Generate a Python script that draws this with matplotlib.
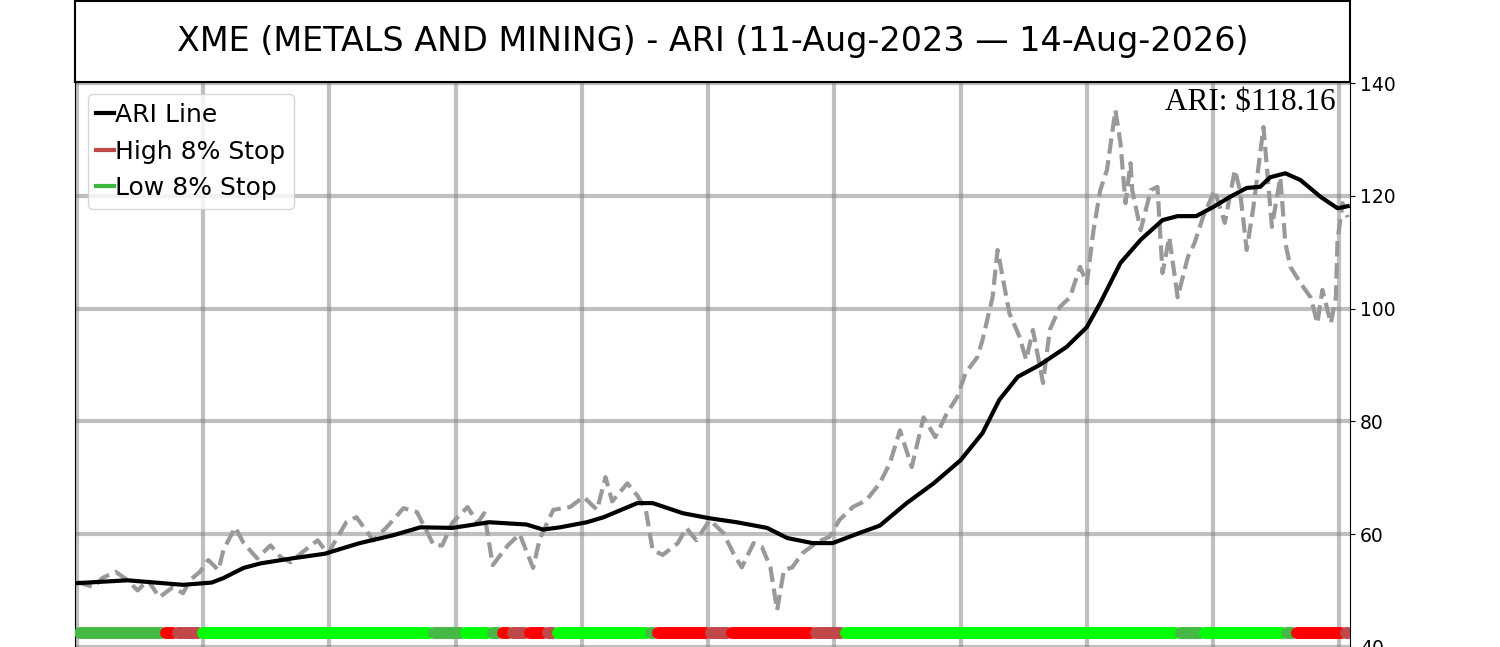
import matplotlib
matplotlib.use("Agg")
import matplotlib.pyplot as plt
import numpy as np

# ---- data (x = trading-day index from 11-Aug-2023) ----
price_day = [0, 10, 15, 23, 30, 36, 42, 49, 57, 63, 67, 73, 78, 84, 87, 94, 99, 107,
             115, 121, 127, 134, 143, 149, 160, 166, 176, 184, 194, 202, 212, 217,
             223, 232, 238, 242, 247, 256, 263, 271, 275, 283, 293, 301, 309, 314,
             318, 327, 333, 338, 342, 348, 357, 362, 368, 376, 384, 390, 395, 402,
             407, 412, 416, 420, 425, 431, 440, 447, 453, 461, 469, 477, 483, 489,
             496, 503, 510, 517, 523, 528, 535, 538, 544, 547, 550, 554, 560, 564,
             568, 574, 578, 584, 590, 596, 600, 604, 608, 612, 617, 620, 623, 626,
             627, 632, 638, 642, 645, 649, 654, 660, 664, 669, 676, 682, 688, 691,
             695, 699, 705, 707, 710, 715, 718, 721, 727, 733, 737, 740, 745, 748,
             749, 752, 755]
price = [51.5, 50.6, 52.2, 53.3, 51.8, 50.0, 51.8, 48.8, 50.6, 49.5, 51.8, 53.3, 55.4,
         53.6, 57.2, 61.2, 58.4, 55.7, 58.0, 55.9, 55.0, 56.8, 58.9, 56.5, 62.1, 63.0,
         58.9, 61.2, 64.6, 63.9, 58.0, 58.0, 62.0, 64.8, 62.0, 63.7, 54.5, 58.0, 60.0,
         54.0, 59.2, 64.3, 64.8, 66.6, 64.3, 70.1, 65.8, 69.0, 66.8, 64.3, 57.2, 56.3,
         58.4, 61.1, 58.9, 62.5, 60.2, 56.6, 54.1, 58.4, 57.7, 54.1, 46.5, 53.6, 54.1,
         56.6, 58.6, 59.5, 62.5, 64.8, 66.0, 69.0, 72.6, 78.4, 71.9, 80.7, 77.2, 81.5,
         84.3, 88.6, 91.4, 94.4, 102.0, 110.4, 105.6, 99.2, 95.0, 90.9, 96.2, 86.8,
         96.2, 100.3, 102.0, 107.4, 104.5, 113.9, 121.0, 124.6, 135.2, 129.4, 118.7,
         125.8, 121.0, 113.9, 121.0, 121.6, 106.3, 112.7, 102.0, 109.1, 111.6, 116.2,
         121.0, 115.2, 124.6, 121.0, 110.4, 118.0, 132.2, 125.1, 114.5, 123.3, 111.6,
         107.4, 104.5, 102.0, 97.4, 103.3, 97.4, 102.0, 112.2, 118.7, 116.2]

ari_day = [0, 30, 63, 80, 87, 99, 109, 128, 147, 168, 188, 204, 223, 245, 267, 277,
           287, 303, 313, 333, 342, 360, 376, 392, 410, 422, 437, 449, 465, 477, 493,
           509, 525, 538, 548, 559, 572, 588, 600, 608, 620, 632, 645, 654, 665, 675,
           685, 695, 703, 709, 718, 727, 739, 749, 755]
ari = [51.3, 51.8, 51.0, 51.4, 52.2, 54.0, 54.8, 55.7, 56.5, 58.4, 59.8, 61.2, 61.1,
       62.1, 61.7, 60.8, 61.2, 62.1, 63.0, 65.5, 65.5, 63.7, 62.8, 62.1, 61.1, 59.3,
       58.4, 58.4, 60.2, 61.5, 65.5, 69.0, 73.1, 77.9, 83.8, 87.9, 90.0, 93.2, 96.7,
       101.0, 108.1, 112.2, 115.7, 116.4, 116.4, 118.0, 119.8, 121.4, 121.6, 123.3,
       124.0, 122.8, 119.8, 117.8, 118.16]

# stop-state runs: first day of each run and its state
stop_start = [0, 51, 58, 73, 210, 229, 245, 251, 257, 267, 278, 284, 339, 343, 375,
              387, 437, 455, 654, 668, 717, 723, 752]
stop_state = ["low", "hit_high", "high", "ok", "low", "ok", "low", "hit_high", "high",
              "hit_high", "high", "ok", "low", "hit_high", "high", "hit_high", "high",
              "ok", "low", "ok", "low", "hit_high", "high"]
n_days = 756

state_color = {"ok": "#00ff00", "low": "#44b944", "high": "#c04848", "hit_high": "#ff0000"}

fig = plt.figure(figsize=(15, 6.47), dpi=100)

ax = fig.add_axes([0.05, -0.0433, 0.85, 0.9166])
ax.plot(price_day, price, color="#999999", lw=3, linestyle="--", zorder=2)
ax.plot(ari_day, ari, color="black", lw=3, zorder=3, label="ARI Line")

# bottom stop band: each run drawn as a thick round-capped bar
ends = stop_start[1:] + [n_days]
for s, e, st in zip(stop_start, ends, stop_state):
    ax.plot([s + 2, max(s + 2, e - 1)], [42.4, 42.4], color=state_color[st], lw=8.6,
            solid_capstyle="round", zorder=4)

ax.plot([], [], color="#c04848", lw=3, label="High 8% Stop")
ax.plot([], [], color="#3cb83c", lw=3, label="Low 8% Stop")

ax.set_xlim(-1.2, 756.4)
ax.set_ylim(35, 140.2)
ax.set_xticks(np.arange(0, 756, 75))
ax.set_xticklabels([])
ax.tick_params(axis="x", length=0)
ax.set_yticks([40, 60, 80, 100, 120, 140])
ax.yaxis.tick_right()
ax.tick_params(axis="y", labelsize=13.5)
ax.grid(True, color="gray", alpha=0.5, lw=3, zorder=0)
ax.set_axisbelow(True)

ax.legend(loc="upper left", fontsize=18, handlelength=0.7, handletextpad=0.05,
          borderpad=0.35, labelspacing=0.5, bbox_to_anchor=(0.0, 1.0))
ax.text(0.989, 0.99, "ARI: $118.16", transform=ax.transAxes, ha="right", va="top",
        fontsize=22.5, family=["Liberation Serif", "DejaVu Serif"])

tax = fig.add_axes([0.05, 0.8733, 0.85, 0.1252])
tax.set_xticks([])
tax.set_yticks([])
for sp in tax.spines.values():
    sp.set_linewidth(1.5)
tax.text(0.5, 0.5, "XME (METALS AND MINING) - ARI (11-Aug-2023 \u2014 14-Aug-2026)",
         ha="center", va="center", fontsize=24, transform=tax.transAxes)

fig.savefig("out.png", dpi=100)
